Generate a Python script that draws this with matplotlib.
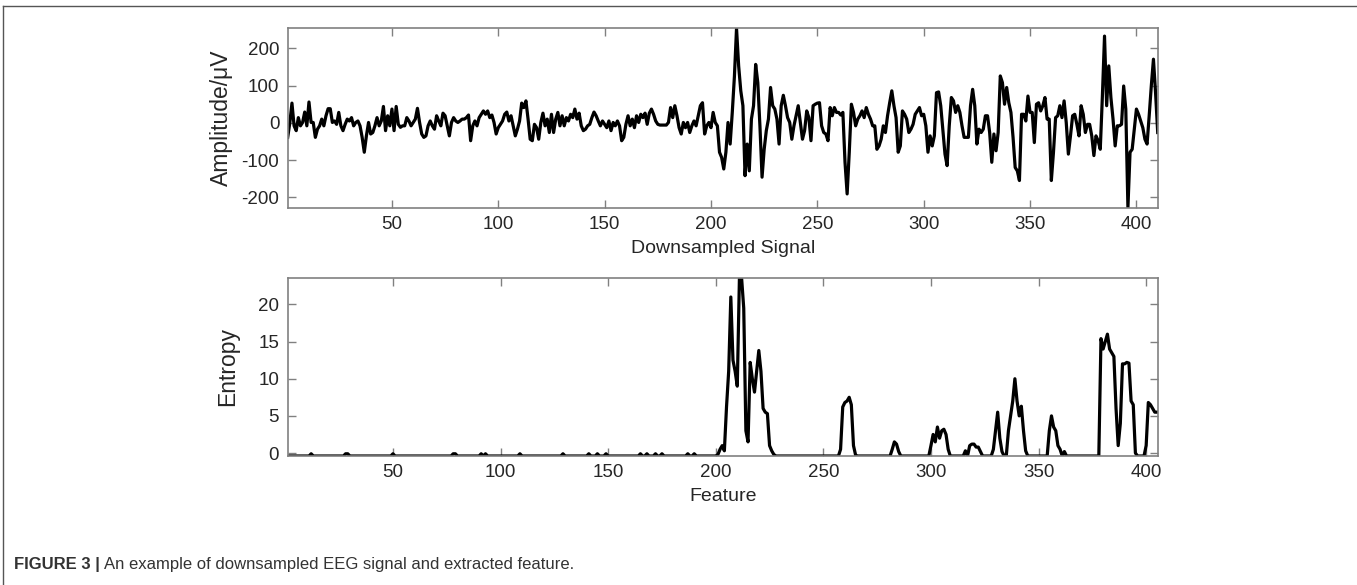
import numpy as np
import matplotlib
matplotlib.use("Agg")
import matplotlib.pyplot as plt
from matplotlib.lines import Line2D

plt.rcParams['font.family'] = ['Liberation Sans', 'DejaVu Sans']
plt.rcParams['axes.unicode_minus'] = False

# downsampled EEG signal (uV), samples 1..410
signal = [
    -39, 0, 53, -8, -21, 14, -8, 1, 29, -8,
    56, 1, 1, -39, -17, -8, 10, -8, 19, 38,
    38, 1, 5, -4, 28, -8, -21, -4, 10, 5,
    14, -8, 1, 5, -8, -39, -79, -35, 1, -30,
    -26, -8, 14, -8, 5, 44, -21, 19, -8, 37,
    -21, 44, -4, -12, -8, -8, 14, 5, -8, 1,
    10, 39, 1, -30, -39, -35, -8, 5, -8, -17,
    19, 5, -8, 26, 19, -8, -35, 1, 14, 5,
    1, 5, 10,
    10, 14, 21, -48, -8, 5, -8, 14, 23, 32,
    23, 32, 14, 21, 1, -30, -13, -4, 5, 23,
    29, 5, 19, -8, -35, -17, 5, 53, 41, 59,
    10, -44, -48, -4, -13, -44, 1, 26, -8, 10,
    -26, 23, -26, 10, 28, -8, 19, -8, 14, 5,
    23, 14, 37, 10, 26, -8, -21, -17, -8, -4,
    14, 29, 19, 5, -8, 5, -4, -13, 5, -21,
    1, -8, 5, -8, -48, -39, -4,
    19, -8, 10, -13, 19, 1, 23, 14, 26, -4,
    26, 37, 23, 5, -4, -6, -6, -6, -6, 1,
    41, 14, 46, 19, -13, -30, 1, -13, 1, -26,
    -8, 5, -8, 19, 46, 54, -30, -8, 1, -13,
    28, 1, -8, -79, -93, -124, -79, 1, -57, 28,
    124, 254, 153, 86, 46, -142, -57, -129, 10, 46,
    157, 108, -8, -146, -71, -21, 10, 95, 46, 37,
    10, -57, 46, 74, 46, 14, 1, -44, -8, 19,
    46, 1, -44,
    -21, 32, 14, -48, 46, 50, 53,
    54, -8, -26, -30, -48, 41, 19, 41, 28, 28,
    21, 28, -106, -191, -79, 50, 28, -8, 10, 19,
    32, 14, 41, 23, 10, -8, -8, -71, -62, -44,
    -8, -26, 19, 54, 86, 46, 14, -79, -62, 32,
    23, 10, -26, -17, -4, 23, 32, 41, 19, 23,
    -8, -79, -35, -62, -35, 81, 83, 46, -20, -84,
    -115, -8, 68, 59, 28, 46, 28, -8, -39, -39, -39,
    46, 90, 46, -57,
    -17, -26, -17, 19, 19, -26, -106, -30, -75, -26,
    126, 108, 50, 95, 54, 28, -39, -120, -129, -155,
    23, 23, 5, 72, 28, 28, -53, 50, 54, 32,
    46, 68, 10, 10, -155, -79, 14, 19, 46, 14,
    59, 1, -84, -35, 19, 23, -4, -35, 46, 23,
    -26, -4, -4, -35, -88, -35, -48, -71, 72, 233,
    46, 153, 68, 10, -62, -8, -8, -4, 99, 37,
    -228, -79, -71, -17, 37, 23, 5, -13, -44, -57,
    19, 100, 171, 80, -26,
]

# entropy feature, windows 1..405
entropy = [
    -0.4, -0.4, -0.4, -0.4, -0.4, -0.4, -0.4, -0.4, -0.4, -0.4,
    -0.4, -0.1, -0.4, -0.4, -0.4, -0.4, -0.4, -0.4, -0.4, -0.4,
    -0.4, -0.4, -0.4, -0.4, -0.4, -0.4, -0.4, -0.1, -0.1, -0.4,
    -0.4, -0.4, -0.4, -0.4, -0.4, -0.4, -0.4, -0.4, -0.4, -0.4,
    -0.4, -0.4, -0.4, -0.4, -0.4, -0.4, -0.4, -0.4, -0.4, -0.1,
    -0.4, -0.4, -0.4, -0.4, -0.4, -0.4, -0.4, -0.4, -0.4, -0.4,
    -0.4, -0.4, -0.4, -0.4, -0.4, -0.4, -0.4, -0.4, -0.4, -0.4,
    -0.4, -0.4, -0.4, -0.4, -0.4, -0.4, -0.4, -0.1, -0.1, -0.4,
    -0.4, -0.4, -0.4, -0.4, -0.4, -0.4, -0.4, -0.4, -0.4, -0.4,
    -0.1, -0.4, -0.1, -0.4, -0.4, -0.4, -0.4, -0.4, -0.4, -0.4,
    -0.4, -0.4, -0.4, -0.4, -0.4, -0.4, -0.4, -0.4, -0.1, -0.4,
    -0.4, -0.4, -0.4, -0.4, -0.4, -0.4, -0.4, -0.4, -0.4, -0.4,
    -0.4, -0.4, -0.4, -0.4, -0.4, -0.4, -0.4, -0.4, -0.1, -0.4,
    -0.4, -0.4, -0.4, -0.4, -0.4, -0.4, -0.4, -0.4, -0.4, -0.4,
    -0.1, -0.4, -0.4, -0.4, -0.1, -0.4, -0.4, -0.4, -0.1, -0.4,
    -0.4, -0.4, -0.4, -0.4, -0.4, -0.4, -0.4, -0.4, -0.4, -0.4,
    -0.4, -0.4, -0.4, -0.4, -0.1, -0.4, -0.4, -0.1, -0.4, -0.4,
    -0.4, -0.1, -0.4, -0.4, -0.1, -0.4, -0.4, -0.4, -0.4, -0.4,
    -0.4, -0.4, -0.4, -0.4, -0.4, -0.4, -0.1, -0.4, -0.4, -0.1,
    -0.4, -0.4, -0.4, -0.4, -0.4, -0.4, -0.4, -0.4, -0.4, -0.4,
    -0.2, 0.5, 1.0, 0.3, 6.2, 11, 21, 12.5, 11, 9,
    23.6, 23.6, 19.5, 3, 1.5, 12.2, 10, 8.2, 11, 13.8,
    11, 6, 5.5, 5.3, 1, 0.3, -0.2, -0.4, -0.4, -0.4,
    -0.4, -0.4, -0.4, -0.4, -0.4, -0.4, -0.4, -0.4, -0.4, -0.4,
    -0.4, -0.4, -0.4, -0.4, -0.4, -0.4, -0.4, -0.4, -0.4, -0.4,
    -0.4, -0.4, -0.4, -0.4, -0.4, -0.4, -0.4, 0.5, 6.2, 6.8,
    7.0, 7.5, 6.5, 1.0, -0.3, -0.4, -0.4, -0.4, -0.4, -0.4,
    -0.4, -0.4, -0.4, -0.4, -0.4, -0.4, -0.4, -0.4, -0.4, -0.4,
    -0.4, 0.5, 1.5, 1.2, 0.2, -0.4, -0.4, -0.4, -0.4, -0.4,
    -0.4, -0.4, -0.4, -0.4, -0.4, -0.4, -0.4, -0.4, -0.4, 1.0,
    2.5, 1.5, 3.5, 2.0, 3.0, 3.2, 2.5, 0.5, -0.4, -0.4,
    -0.4, -0.4, -0.4, -0.4, -0.4, 0.3, -0.4, 1.0, 1.2, 1.2,
    0.8, 0.8, 0.2, -0.4, -0.4, -0.4, -0.4, -0.4, 0.5, 3.0,
    5.5, 2.0, 0.2, -0.4, -0.4, 3.0, 5.0, 7.0, 10.0, 7.0,
    5.0, 6.3, 3.0, 0.3, -0.4, -0.4, -0.4, -0.4, -0.4, -0.4,
    -0.4, -0.4, -0.4, -0.4, 3.0, 5.0, 3.5, 3.0, 1.0, 0.5,
    -0.4, 0.2, -0.4, -0.4, -0.4, -0.4, -0.4, -0.4, -0.4, -0.4,
    -0.4, -0.4, -0.4, -0.4, -0.4, -0.4, -0.4, -0.4, 15.4, 14.0,
    15.0, 16.0, 14.0, 13.5, 13.0, 6.0, 1.0, 4.0, 12.0, 12.0,
    12.2, 12.1, 7.0, 6.5, 0.0, -0.4, -0.4, -0.4, -0.4, 1.0,
    6.8, 6.5, 6.0, 5.5, 5.5,
]

assert len(signal) == 410 and len(entropy) == 405

W, H = 1357, 585
fig = plt.figure(figsize=(W / 100, H / 100), dpi=100)

spine_col = '#808080'
text_col = '#262626'


def style_axes(ax):
    for s in ax.spines.values():
        s.set_color(spine_col)
        s.set_linewidth(1.2)
    ax.tick_params(direction='in', length=6, width=1.0, color=spine_col,
                   top=True, right=True, labelsize=13.5, labelcolor=text_col, pad=6)


# top panel
ax1 = fig.add_axes([287.7 / W, 1 - 207.7 / H, 870 / W, 179.4 / H])
x1 = np.arange(1, len(signal) + 1)
ax1.plot(x1, signal, color='black', linewidth=2.3)
ax1.set_xlim(1, len(signal))
ax1.set_ylim(min(signal), max(signal))
ax1.set_xticks([50, 100, 150, 200, 250, 300, 350, 400])
ax1.set_yticks([-200, -100, 0, 100, 200])
ax1.set_xlabel('Downsampled Signal', fontsize=14, color=text_col, labelpad=5)
ax1.set_ylabel('Amplitude/\u03bcV', fontsize=16.5, color=text_col, labelpad=6)
style_axes(ax1)

# bottom panel
ax2 = fig.add_axes([287.5 / W, 1 - 456 / H, 870.5 / W, 178.3 / H])
x2 = np.arange(1, len(entropy) + 1)
ax2.plot(x2, entropy, color='black', linewidth=2.3)
ax2.set_xlim(1, len(entropy) + 0.5)
ax2.set_ylim(min(entropy), 23.6)
ax2.set_xticks([50, 100, 150, 200, 250, 300, 350, 400])
ax2.set_yticks([0, 5, 10, 15, 20])
ax2.set_xlabel('Feature', fontsize=14, color=text_col, labelpad=5)
ax2.set_ylabel('Entropy', fontsize=16.5, color=text_col, labelpad=14)
style_axes(ax2)

# frame round the figure
fig.add_artist(Line2D([3 / W, 3 / W], [0, 1 - 6 / H], transform=fig.transFigure,
                      color='#555555', linewidth=1.0))
fig.add_artist(Line2D([3 / W, 1], [1 - 6 / H, 1 - 6 / H], transform=fig.transFigure,
                      color='#555555', linewidth=1.0))

# caption
t1 = fig.text(14 / W, 1 - 565 / H, 'FIGURE 3 |', fontsize=12, fontweight='bold',
              color='#333333', va='center')
fig.canvas.draw()
bb = t1.get_window_extent()
fig.text((bb.x1 + 4) / W, 1 - 565 / H,
         'An example of downsampled EEG signal and extracted feature.',
         fontsize=12, color='#333333', va='center')

fig.savefig('out.png', dpi=100)
